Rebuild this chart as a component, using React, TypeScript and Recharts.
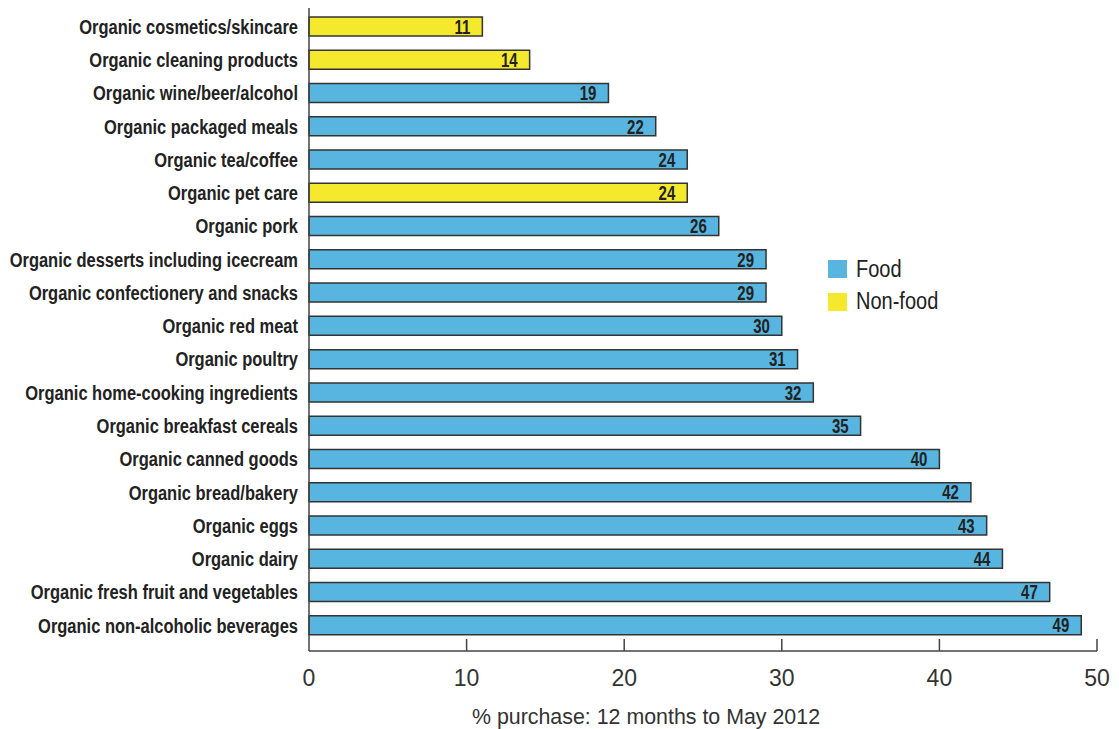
import React from "react";
import { BarChart, Bar, XAxis, YAxis, Cell, LabelList } from "recharts";

const categories = [
  "Organic cosmetics/skincare",
  "Organic cleaning products",
  "Organic wine/beer/alcohol",
  "Organic packaged meals",
  "Organic tea/coffee",
  "Organic pet care",
  "Organic pork",
  "Organic desserts including icecream",
  "Organic confectionery and snacks",
  "Organic red meat",
  "Organic poultry",
  "Organic home-cooking ingredients",
  "Organic breakfast cereals",
  "Organic canned goods",
  "Organic bread/bakery",
  "Organic eggs",
  "Organic dairy",
  "Organic fresh fruit and vegetables",
  "Organic non-alcoholic beverages",
];

const values = [11, 14, 19, 22, 24, 24, 26, 29, 29, 30, 31, 32, 35, 40, 42, 43, 44, 47, 49];

const groups = [
  "Non-food", "Non-food", "Food", "Food", "Food", "Non-food", "Food", "Food", "Food", "Food",
  "Food", "Food", "Food", "Food", "Food", "Food", "Food", "Food", "Food",
];

const xTicks = [0, 10, 20, 30, 40, 50];

const legendItems = ["Food", "Non-food"];

const colors: Record<string, string> = {
  Food: "#57B5DF",
  "Non-food": "#F4E92C",
};

const axisTitle = "% purchase: 12 months to May 2012";

const data = categories.map((name, i) => ({ name, value: values[i], group: groups[i] }));

const FONT = "'Liberation Sans', Arial, Helvetica, sans-serif";
const TEXT = "#222";

const YTick = (props: any) => {
  const { x, y, payload } = props;
  return (
    <text
      transform={`translate(${x},${y}) scale(0.824,1)`}
      x={0}
      y={0}
      dy="0.36em"
      textAnchor="end"
      fontFamily={FONT}
      fontSize={20}
      fontWeight="bold"
      fill={TEXT}
    >
      {payload.value}
    </text>
  );
};

const XTick = (props: any) => {
  const { x, y, payload } = props;
  return (
    <g>
      {payload.value !== 0 && (
        <line x1={x} y1={y} x2={x} y2={y - 12} stroke="#444" strokeWidth={1.5} />
      )}
      <text
        x={x}
        y={y + 27}
        dy="0.36em"
        textAnchor="middle"
        fontFamily={FONT}
        fontSize={23}
        fill="#333"
      >
        {payload.value}
      </text>
    </g>
  );
};

const AxisTitle = (props: any) => {
  const { viewBox } = props;
  const cx = viewBox.x + viewBox.width / 2 - 57;
  return (
    <text
      transform={`translate(${cx},${viewBox.y + viewBox.height - 5}) scale(0.93,1)`}
      x={0}
      y={0}
      textAnchor="middle"
      fontFamily={FONT}
      fontSize={23}
      fill="#333"
    >
      {axisTitle}
    </text>
  );
};

const BarValue = (props: any) => {
  const { x, y, width, height, value } = props;
  return (
    <text
      transform={`translate(${x + width - 12},${y + height / 2}) scale(0.75,1)`}
      x={0}
      y={0}
      dy="0.36em"
      textAnchor="end"
      fontFamily={FONT}
      fontSize={20}
      fontWeight="bold"
      fill={TEXT}
    >
      {value}
    </text>
  );
};

const LegendBox = () => (
  <div style={{ position: "absolute", left: 828, top: 253, fontFamily: FONT, fontSize: 23, color: TEXT }}>
    {legendItems.map((item) => (
      <div key={item} style={{ display: "flex", alignItems: "center", height: 32.5 }}>
        <span
          style={{ display: "inline-block", width: 19, height: 18, background: colors[item], marginRight: 9 }}
        />
        <span style={{ display: "inline-block", transform: "scaleX(0.87)", transformOrigin: "left center" }}>
          {item}
        </span>
      </div>
    ))}
  </div>
);

export default function App() {
  return (
    <div style={{ position: "absolute", left: 0, top: 0, width: 1119, height: 729, background: "#fff" }}>
      <BarChart
        width={1119}
        height={729}
        data={data}
        layout="vertical"
        margin={{ top: 8, right: 22, left: 0, bottom: 0 }}
        barCategoryGap={0}
      >
        <XAxis
          type="number"
          domain={[0, 50]}
          ticks={xTicks}
          interval={0}
          height={78}
          tickLine={false}
          tickSize={0}
          tickMargin={0}
          axisLine={{ stroke: "#444", strokeWidth: 1.5 }}
          tick={<XTick />}
          label={<AxisTitle />}
        />
        <YAxis
          type="category"
          dataKey="name"
          width={309}
          interval={0}
          tickLine={false}
          tickSize={0}
          tickMargin={11}
          padding={{ top: 2, bottom: 9 }}
          axisLine={{ stroke: "#444", strokeWidth: 1.5 }}
          tick={<YTick />}
        />
        <Bar dataKey="value" barSize={19} stroke="#333" strokeWidth={1.5} isAnimationActive={false}>
          {data.map((d, i) => (
            <Cell key={i} fill={colors[d.group]} />
          ))}
          <LabelList dataKey="value" content={<BarValue />} />
        </Bar>
      </BarChart>
      <LegendBox />
    </div>
  );
}
